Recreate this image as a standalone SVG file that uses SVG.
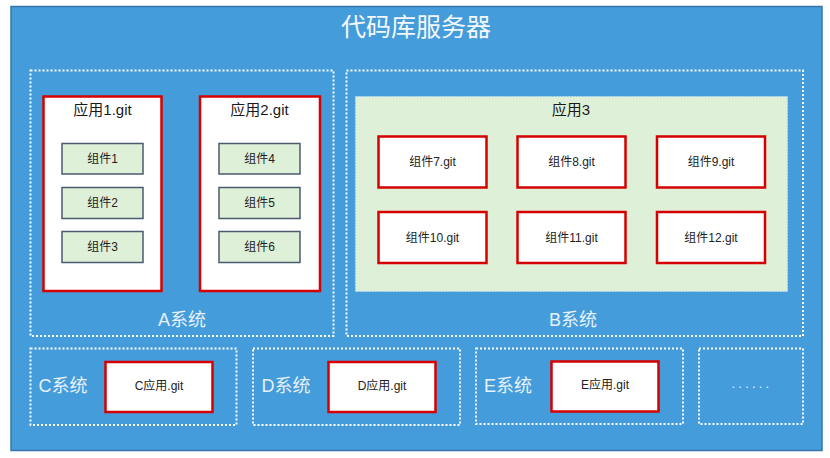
<svg xmlns="http://www.w3.org/2000/svg" width="830" height="458" viewBox="0 0 830 458">
<style>
text{font-family:"Liberation Sans","Noto Sans CJK SC",sans-serif;text-anchor:middle;dominant-baseline:central}
.sys{fill:none;stroke:#ffffff;stroke-width:2;stroke-dasharray:2 2}
.app{fill:#ffffff;stroke:#d50000;stroke-width:2.5}
.comp{fill:#dff0d8;stroke:#4a5b6e;stroke-width:1.5}
.t15{font-size:15px;fill:#1a1a1a}
.t12{font-size:12px;fill:#222}
.sl{font-size:18px;fill:#e8f2fb}
</style>
<rect x="0" y="0" width="830" height="458" fill="#ffffff"/>
<g id="server">
<rect x="11" y="6.5" width="811" height="444" fill="#459cdb" stroke="#3575a8" stroke-width="1.5"/>
<text x="416" y="27" font-size="25" fill="#f4f8fc">代码库服务器</text>
</g>
<g id="sysA">
<rect class="sys" x="30.5" y="70.5" width="303" height="265.5"/>
<text class="sl" x="182" y="320">A系统</text>
</g>
<g id="app1">
<rect class="app" x="43.5" y="96.5" width="118" height="194.5"/>
<text class="t15" x="102.5" y="109">应用1.git</text>
</g>
<g id="c1"><rect class="comp" x="62" y="143.5" width="81" height="30.5"/><text class="t12" x="102.5" y="158.5">组件1</text></g>
<g id="c2"><rect class="comp" x="62" y="187.5" width="81" height="31"/><text class="t12" x="102.5" y="202.5">组件2</text></g>
<g id="c3"><rect class="comp" x="62" y="231.5" width="81" height="31"/><text class="t12" x="102.5" y="246.5">组件3</text></g>
<g id="app2">
<rect class="app" x="200" y="96.5" width="120" height="194.5"/>
<text class="t15" x="259.5" y="109">应用2.git</text>
</g>
<g id="c4"><rect class="comp" x="219" y="143.5" width="81" height="30.5"/><text class="t12" x="259.5" y="158.5">组件4</text></g>
<g id="c5"><rect class="comp" x="219" y="187.5" width="81" height="31"/><text class="t12" x="259.5" y="202.5">组件5</text></g>
<g id="c6"><rect class="comp" x="219" y="231.5" width="81" height="31"/><text class="t12" x="259.5" y="246.5">组件6</text></g>
<g id="sysB">
<rect class="sys" x="346.5" y="70.5" width="456.5" height="265.5"/>
<text class="sl" x="573" y="320">B系统</text>
</g>
<g id="app3">
<rect x="355.5" y="96.5" width="432" height="195" fill="#dff0d8" stroke="#b9dcef" stroke-width="1.2" stroke-dasharray="1.5 1.5"/>
<text class="t15" x="571" y="109">应用3</text>
</g>
<g id="c7"><rect class="app" x="378.5" y="136.5" width="108" height="51"/><text class="t12" x="432.5" y="162">组件7.git</text></g>
<g id="c8"><rect class="app" x="517.5" y="136.5" width="108" height="51"/><text class="t12" x="571.5" y="162">组件8.git</text></g>
<g id="c9"><rect class="app" x="657" y="136.5" width="108" height="51"/><text class="t12" x="711" y="162">组件9.git</text></g>
<g id="c10"><rect class="app" x="378.5" y="212" width="108" height="51"/><text class="t12" x="432.5" y="237.5">组件10.git</text></g>
<g id="c11"><rect class="app" x="517.5" y="212" width="108" height="51"/><text class="t12" x="571.5" y="237.5">组件11.git</text></g>
<g id="c12"><rect class="app" x="657" y="212" width="108" height="51"/><text class="t12" x="711" y="237.5">组件12.git</text></g>
<g id="sysC">
<rect class="sys" x="30.5" y="348.5" width="206" height="76.5"/>
<text class="sl" x="63" y="386">C系统</text>
</g>
<g id="appC"><rect class="app" x="105.5" y="362" width="107" height="50"/><text class="t12" x="159" y="386">C应用.git</text></g>
<g id="sysD">
<rect class="sys" x="253" y="348.5" width="207" height="76.5"/>
<text class="sl" x="286" y="386">D系统</text>
</g>
<g id="appD"><rect class="app" x="328.5" y="362" width="107" height="50"/><text class="t12" x="382" y="386">D应用.git</text></g>
<g id="sysE">
<rect class="sys" x="476" y="348.5" width="207" height="75.5"/>
<text class="sl" x="508" y="386">E系统</text>
</g>
<g id="appE"><rect class="app" x="551.5" y="361.5" width="107" height="50"/><text class="t12" x="605" y="385">E应用.git</text></g>
<g id="sysMore">
<rect class="sys" x="699" y="348.5" width="104" height="75.5"/>
<text x="752" y="383" style="font-size:13px;fill:#e8f2fb;letter-spacing:3.2px">......</text>
</g>
<g id="connectors"></g>
</svg>
